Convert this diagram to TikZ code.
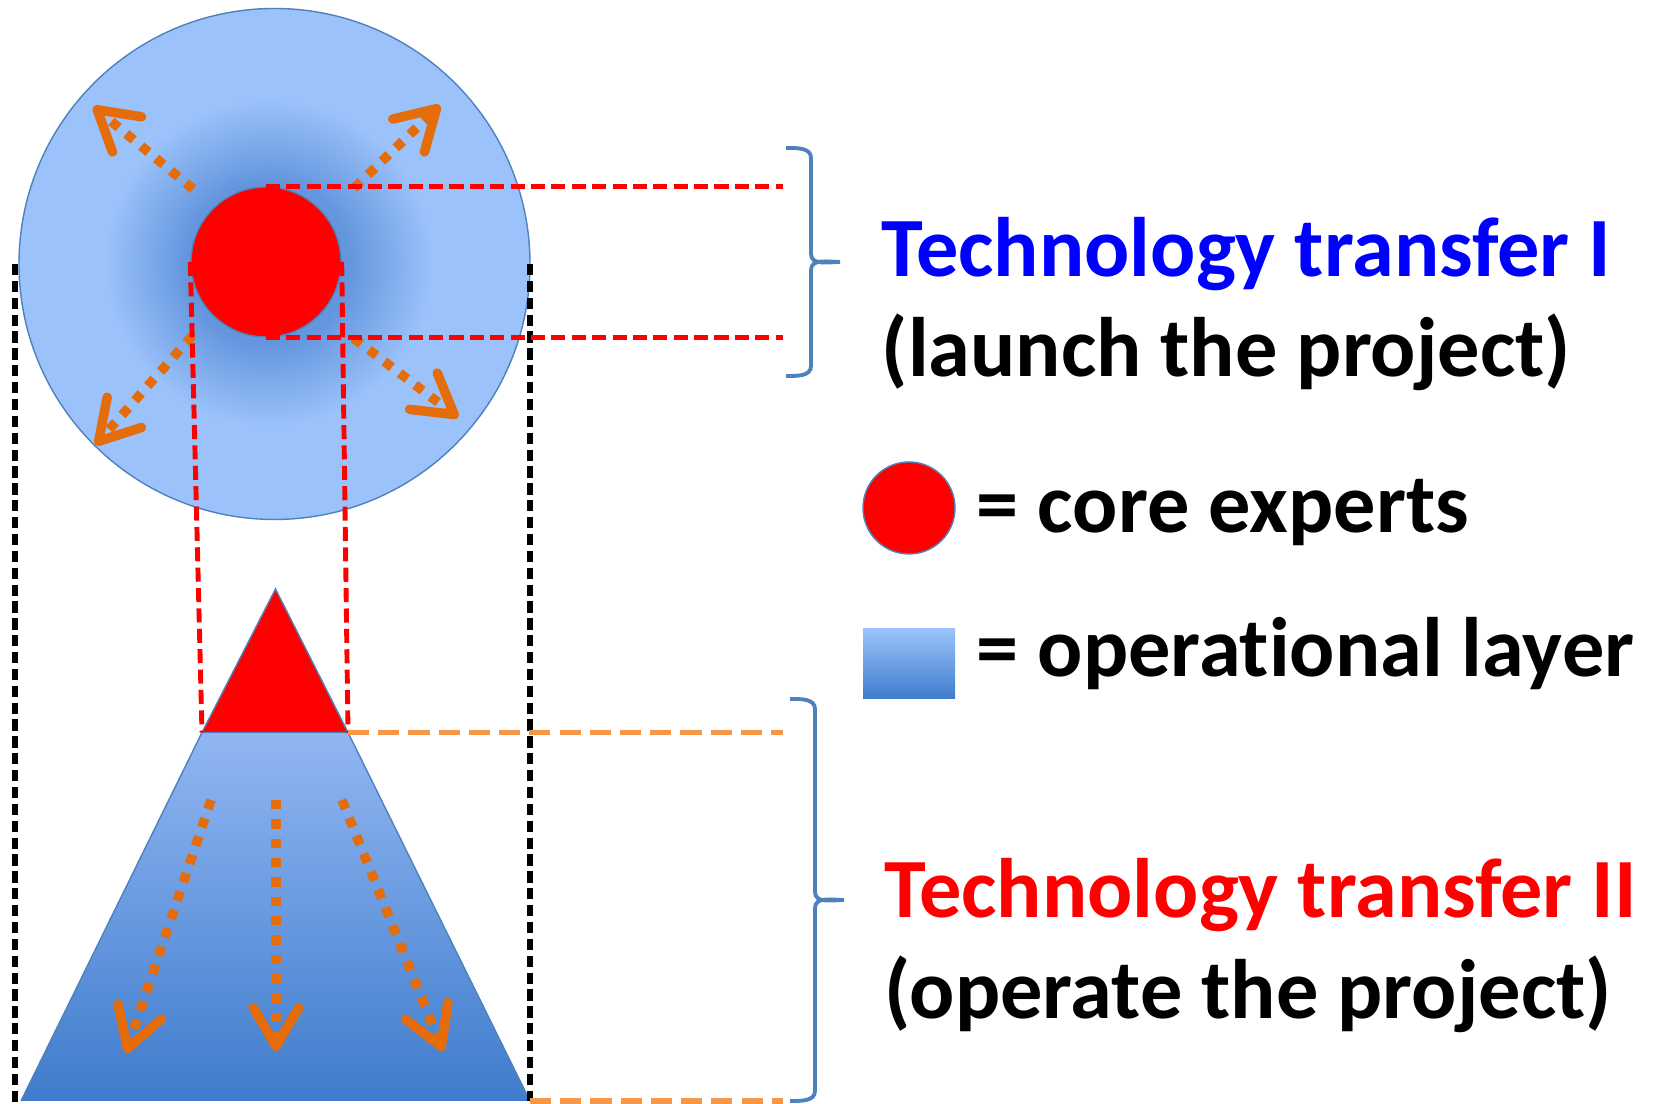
\documentclass[tikz,border=0pt]{standalone}
\usepackage{fontspec}
\setmainfont{Carlito}[Ligatures=NoCommon]
\usetikzlibrary{arrows.meta,positioning}
\definecolor{layerlight}{RGB}{155,194,250}
\definecolor{layerdark}{RGB}{100,150,222}
\definecolor{layertop}{RGB}{145,182,242}
\definecolor{layerbottom}{RGB}{63,124,204}
\definecolor{edgeblue}{RGB}{79,129,189}
\definecolor{spreadorange}{RGB}{228,108,10}
\definecolor{guideorange}{RGB}{247,150,70}
\pgfdeclareradialshading{corefade}{\pgfpoint{-0.8bp}{0.2bp}}{color(0bp)=(layerdark); color(8bp)=(layerdark); color(16bp)=(layerlight); color(50bp)=(layerlight)}
\begin{document}
\begin{tikzpicture}[
	caption/.style={anchor=base west,inner sep=0pt,font=\fontsize{24}{29}\selectfont\bfseries},
	spread/.style={spreadorange,line width=2.7pt,dash pattern=on 2.7pt off 2.8pt,-{Straight Barb[length=11pt,width=13pt,round]}},
	reddash/.style={red,line width=1.4pt,dash pattern=on 4pt off 1.8pt},
	orangedash/.style={guideorange,line width=1.6pt,dash pattern=on 6pt off 2.6pt},
	blackdash/.style={black,line width=1.6pt,dash pattern=on 3.2pt off 1.6pt},
	bracket/.style={edgeblue,line width=1.1pt}]
	   \useasboundingbox (0,0) rectangle (16.55,11.04);
	   % operational layer seen from above
	   \node [circle,draw=edgeblue,thin,shading=corefade,minimum size=5.11cm,inner sep=0pt] (layer) at (2.745,8.40) {};
	   \node [circle,draw=edgeblue,fill=red,thin,minimum size=1.5cm,inner sep=0pt] (core) at (2.66,8.42) {};
	   \foreach \a/\b/\c/\d in {135/1.03/138/2.32, 40/1.15/42/2.34, 225/1.04/227/2.50, 319/1.16/321/2.47}
	      \draw[spread] ([shift={(\a:\b)}]core.center) -- ([shift={(\c:\d)}]core.center);
	   % operational layer seen from the side
	   \coordinate (apex) at (2.755,5.15);
	   \coordinate (cutL) at (2.02,3.715);
	   \coordinate (cutR) at (3.48,3.715);
	   \coordinate (baseL) at (0.21,0.03);
	   \coordinate (baseR) at (5.30,0.03);
	   \fill [top color=layertop,bottom color=layerbottom] (cutL) -- (cutR) -- (baseR) -- (baseL) -- cycle;
	   \draw [edgeblue,thin] (cutL) -- (baseL) (cutR) -- (baseR);
	   \filldraw [fill=red,draw=edgeblue,thin] (apex) -- (cutR) -- (cutL) -- cycle;
	   \foreach \sx/\ex/\ey in {2.11/1.26/0.51, 2.76/2.76/0.53, 3.42/4.43/0.53}
	      \draw[spread] (\sx,3.04) -- (\ex,\ey);
	   % guide lines
	   \coordinate (edgeI) at (7.83,0);
	   \coordinate (guideL) at (0.15,8.40);
	   \coordinate (guideR) at (5.30,8.40);
	   \coordinate (floorL) at (0.15,0);
	   \coordinate (floorR) at (5.30,0.03);
	   \draw[blackdash] (guideL) -- (floorL);
	   \draw[blackdash] (guideR) -- (floorR);
	   \draw[reddash] (core.north) -- (core.north -| edgeI);
	   \draw[reddash] (core.south) -- (core.south -| edgeI);
	   \draw[reddash] (core.west) -- (cutL);
	   \draw[reddash] (core.east) -- (cutR);
	   \draw[orangedash] (cutR) -- (cutR -| edgeI);
	   \draw[orangedash] (baseR) -- (baseR -| edgeI);
	   % braces and labels
	   \coordinate (braceItop) at (7.86,9.56);
	   \coordinate (braceIItop) at (7.90,4.05);
	   \draw[bracket] (braceItop) to[out=0,in=90] ++(0.25,-0.10) -- ++(0,-0.96) to[out=270,in=180] ++(0.29,-0.08)
	      to[out=180,in=90] ++(-0.29,-0.08) -- ++(0,-0.96) to[out=270,in=0] ++(-0.25,-0.10);
	   \draw[bracket] (braceIItop) to[out=0,in=90] ++(0.25,-0.10) -- ++(0,-1.83) to[out=270,in=180] ++(0.29,-0.08)
	      to[out=180,in=90] ++(-0.29,-0.08) -- ++(0,-1.83) to[out=270,in=0] ++(-0.25,-0.10);
	   \node [caption,text=blue] (transferI) at (8.81,8.275) {Technology transfer I};
	   \node [caption] (launch) at (8.81,7.27) {(launch the project)};
	   \node [circle,draw=edgeblue,fill=red,thin,minimum size=0.92cm,inner sep=0pt] (corekey) at (9.09,5.96) {};
	   \node [caption] (corelabel) at (9.76,5.71) {= core experts};
	   \node [rectangle,top color=layerlight,bottom color=layerbottom,minimum width=0.92cm,minimum height=0.70cm,inner sep=0pt] (layerkey) at (9.09,4.40) {};
	   \node [caption] (layerlabel) at (9.76,4.27) {= operational layer};
	   \node [caption,text=red] (transferII) at (8.84,1.86) {Technology transfer II};
	   \node [caption] (operate) at (8.84,0.85) {(operate the project)};
	\end{tikzpicture}
\end{document}
